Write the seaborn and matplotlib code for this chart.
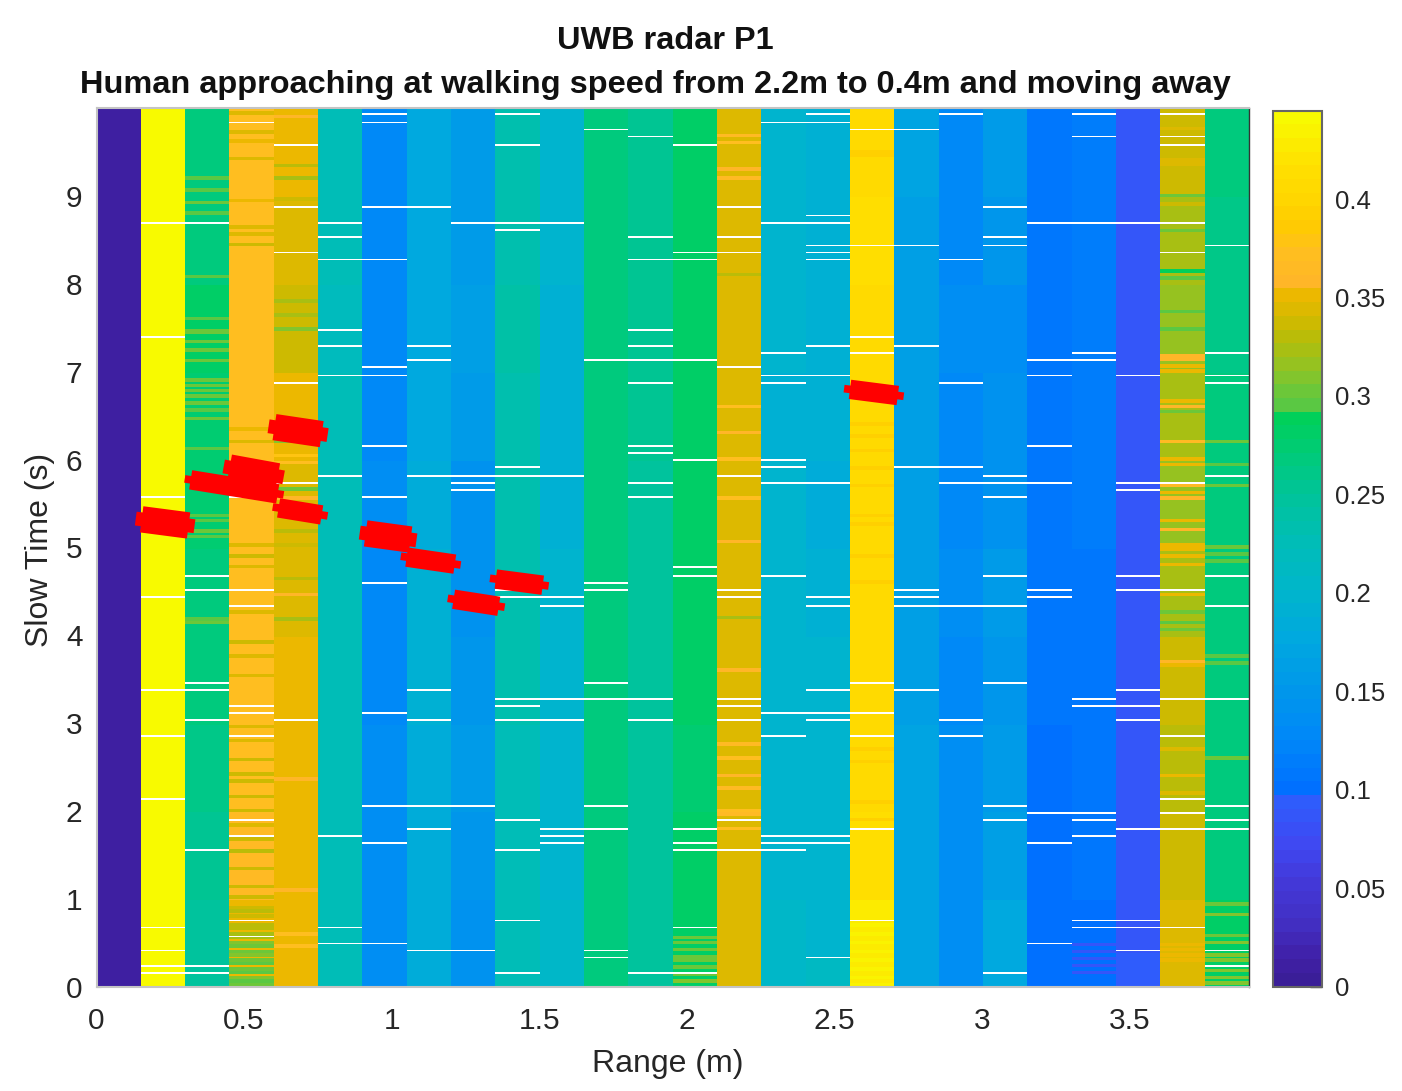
import numpy as np
import seaborn as sns
from matplotlib import pyplot as plt
from matplotlib.colors import LinearSegmentedColormap

sns.set_style('white')
plt.rcParams['font.family'] = ['Liberation Sans', 'DejaVu Sans']

title_top = 'UWB radar P1'
title_bottom = 'Human approaching at walking speed from 2.2m to 0.4m and moving away'
x_ticks = [0, 0.5, 1, 1.5, 2, 2.5, 3, 3.5]
x_tick_labels = ['0', '0.5', '1', '1.5', '2', '2.5', '3', '3.5']
y_ticks = [0, 1, 2, 3, 4, 5, 6, 7, 8, 9]
cbar_ticks = [0, 0.05, 0.1, 0.15, 0.2, 0.25, 0.3, 0.35, 0.4]
cbar_labels = ['0', '0.05', '0.1', '0.15', '0.2', '0.25', '0.3', '0.35', '0.4']
range_max = 3.905
time_max = 10.01
value_max = 0.445

# mean level of every range bin, one value per second of slow time (0-1 s first)
bin_levels = [
    [.012, .012, .012, .012, .012, .012, .012, .012, .012, .012],
    [.440, .440, .440, .440, .440, .440, .440, .440, .440, .440],
    [.245, .255, .260, .265, .270, .275, .275, .280, .270, .265],
    [.350, .365, .370, .370, .370, .375, .375, .375, .375, .370],
    [.352, .352, .348, .350, .345, .345, .348, .340, .345, .350],
    [.225, .225, .225, .225, .225, .225, .225, .220, .225, .225],
    [.135, .135, .135, .130, .130, .135, .130, .130, .130, .130],
    [.185, .185, .185, .190, .190, .185, .180, .180, .180, .180],
    [.140, .150, .155, .150, .145, .140, .155, .160, .155, .155],
    [.225, .225, .225, .235, .235, .235, .235, .240, .235, .235],
    [.205, .200, .200, .195, .195, .190, .190, .190, .195, .200],
    [.265, .265, .265, .265, .265, .270, .265, .270, .270, .270],
    [.245, .250, .245, .250, .250, .250, .255, .255, .255, .255],
    [.280, .280, .275, .280, .285, .285, .285, .285, .285, .285],
    [.345, .345, .345, .345, .345, .345, .345, .345, .345, .345],
    [.205, .200, .200, .200, .195, .195, .190, .200, .200, .200],
    [.195, .195, .195, .195, .190, .185, .190, .190, .190, .190],
    [.425, .415, .410, .410, .410, .410, .410, .410, .415, .410],
    [.170, .170, .170, .165, .165, .165, .165, .165, .165, .170],
    [.135, .135, .135, .130, .135, .130, .130, .135, .130, .130],
    [.175, .165, .155, .150, .155, .145, .140, .135, .150, .155],
    [.101, .102, .102, .105, .105, .105, .105, .105, .110, .105],
    [.101, .108, .105, .110, .110, .115, .115, .115, .115, .115],
    [.085, .085, .085, .085, .085, .085, .085, .085, .085, .085],
    [.345, .335, .330, .335, .325, .315, .325, .315, .320, .335],
    [.285, .270, .265, .270, .265, .270, .265, .262, .262, .270],
]

# thin rows that stand out from the level of a bin: bin -> (times, values)
stripe_times = {
    2: [9.19, 9.05, 8.92, 8.80, 8.07, 7.59, 7.46, 7.43, 7.34, 7.24, 7.11, 6.89, 6.84,
        6.77, 6.72, 6.64, 6.55, 6.45, 6.12, 5.36, 5.29, 5.17, 5.11, 4.18, 4.14],
    3: [9.93, 9.72, 9.61, 9.42, 8.93, 8.64, 8.55, 8.43, 6.34, 6.19, 5.02, 4.90, 4.77, 4.26,
        3.91, 3.76, 3.53, 2.95, 2.79, 2.57, 2.41, 2.34, 2.15, 2.00, 1.83, 1.67, 1.54, 1.33,
        1.14, 1.01, .90, .85, .80, .70, .65, .60, .55, .50, .45, .40, .35, .30, .25, .20,
        .15, .10, .05, .02],
    4: [9.90, 9.34, 9.19, 8.96, 7.79, 7.63, 7.48, 6.38, 6.19, 6.04, 5.96, 5.66, 5.55, 5.17,
        5.02, 4.64, 4.45, 4.18, 2.35, 1.10, .60, .45],
    13: [.55, .50, .42, .33, .29, .21, .14, .06],
    14: [9.67, 9.59, 9.29, 9.19, 8.09, 6.60, 6.30, 6.00, 5.55, 5.05, 4.20, 3.60, 2.75, 2.60,
         2.40, 2.25, 2.00, 1.95, 1.80],
    16: [.30, .26, .22, .18, .14, .10, .06, .02],
    17: [9.50, 9.45, 6.40, 6.25, 6.10, 5.90, 5.70, 5.35, 5.25, 4.90, 4.60, 2.70, 2.55, 2.10,
         1.90, .70, .60, .50, .40, .30, .20, .10, .02],
    22: [.48, .40, .32, .24, .16],
    23: [.36, .32, .28, .24, .20, .16, .12, .08, .04, .02],
    24: [9.75, 9.40, 9.35, 9.00, 8.90, 8.60, 8.13, 8.05, 7.67, 7.48, 7.18, 7.14, 7.05, 7.00,
         6.65, 6.60, 6.53, 6.19, 6.00, 5.94, 5.70, 5.62, 5.55, 5.30, 5.19, 5.02, 4.98, 4.90,
         4.79, 4.45, 4.26, 4.14, 4.06, 3.69, 3.65, 2.70, 2.40, 2.20, .48, .42, .36, .30],
    25: [6.19, 5.94, 5.70, 5.00, 4.92, 4.83, 3.76, 3.67, 2.60, .93, .82, .57, .50, .36, .29,
         .18, .10, .04],
}
stripe_values = {
    2: [.295, .295, .300, .295, .295, .295, .300, .300, .300, .300, .300, .300, .305,
        .300, .305, .300, .295, .300, .295, .295, .295, .300, .295, .295, .300],
    3: [.345, .345, .350, .345, .350, .345, .345, .340, .350, .345, .345, .340, .345, .345,
        .335, .345, .345, .345, .345, .340, .340, .340, .340, .340, .345, .340, .330, .340,
        .340, .335, .335, .330, .335, .330, .330, .320, .325, .310, .305, .300, .310, .305,
        .295, .300, .295, .310, .295, .300],
    4: [.360, .330, .320, .340, .320, .320, .310, .370, .310, .380, .370, .300, .360, .330,
        .340, .330, .360, .325, .360, .360, .370, .370],
    13: [.300, .300, .300, .305, .305, .300, .305, .310],
    14: [.365, .370, .360, .365, .330, .370, .360, .370, .370, .360, .325, .360, .365, .370,
         .360, .365, .370, .365, .370],
    16: [.215, .215, .215, .215, .215, .215, .215, .215],
    17: [.390, .395, .395, .390, .390, .395, .395, .390, .395, .395, .395, .395, .390, .395,
         .395, .435, .435, .435, .435, .435, .435, .435, .435],
    22: [.085, .085, .090, .085, .085],
    23: [.095, .095, .095, .095, .095, .095, .095, .095, .095, .095],
    24: [.345, .345, .345, .300, .335, .300, .290, .295, .295, .295, .358, .358, .350, .350,
         .350, .358, .300, .362, .350, .350, .362, .350, .358, .350, .358, .352, .352, .350,
         .350, .350, .300, .295, .300, .358, .350, .345, .350, .345, .354, .354, .354, .354],
    25: [.300, .295, .300, .300, .295, .295, .295, .295, .300, .300, .310, .300, .310, .310,
         .310, .310, .310, .310],
}

# rows with no return, one list per range bin
gap_times = [
    [],
    [8.70, 7.39, 5.57, 4.43, 3.37, 2.86, 2.14, .67, .41, .24, .16],
    [8.70, 4.68, 4.51, 3.46, 3.37, 3.03, 1.55, .24, .16],
    [9.84, 5.57, 4.51, 4.34, 3.20, 3.11, 2.86, 1.89, 1.72, .75, .58],
    [9.58, 8.87, 8.36, 6.88, 5.74, 3.03],
    [8.70, 8.53, 8.27, 7.48, 7.30, 6.96, 5.82, 1.72, .67, .49],
    [9.93, 9.84, 8.87, 8.27, 7.05, 6.96, 6.16, 5.57, 4.60, 3.11, 2.06, 1.64, .49],
    [8.87, 7.30, 7.13, 5.82, 3.37, 3.03, 2.06, 1.80, .41],
    [8.70, 5.82, 5.74, 5.65, 2.06, .41],
    [9.93, 9.58, 8.70, 8.61, 5.91, 5.82, 4.51, 4.43, 3.28, 3.20, 3.03, 1.89, 1.55, .75, .16],
    [8.70, 5.82, 4.43, 4.34, 3.28, 3.03, 1.80, 1.72, 1.64],
    [9.75, 7.13, 4.60, 4.51, 3.46, 3.28, 2.06, 1.80, .41, .33],
    [9.67, 8.53, 8.27, 7.48, 7.30, 7.13, 6.88, 6.16, 6.08, 5.74, 5.57, 3.28, 3.03, .16],
    [9.58, 8.36, 8.27, 7.13, 5.99, 4.77, 4.68, 1.80, 1.64, 1.55, .67, .16],
    [8.87, 8.53, 8.36, 7.05, 5.82, 4.51, 4.43, 3.28, 3.20, 3.03, 1.89, 1.55],
    [9.84, 8.70, 7.22, 6.96, 6.88, 5.99, 5.91, 5.74, 4.68, 3.11, 2.86, 1.72, 1.64, 1.55],
    [9.93, 9.84, 8.78, 8.70, 8.44, 8.36, 8.27, 7.30, 6.96, 5.74, 4.43, 4.34, 3.37, 3.11, 3.03,
     1.72, 1.64, .33],
    [9.75, 8.44, 7.39, 7.22, 3.46, 3.11, 2.86, 1.80, .75],
    [9.75, 8.44, 7.30, 5.91, 4.51, 4.43, 4.34, 3.37],
    [9.93, 8.27, 6.88, 5.91, 5.74, 4.34, 3.03, 2.86],
    [8.87, 8.53, 8.44, 5.82, 5.74, 5.57, 4.68, 4.34, 3.46, 2.06, 1.89, .16],
    [8.70, 7.13, 6.96, 6.16, 5.74, 4.51, 4.43, 1.97, 1.64, .49],
    [9.93, 9.67, 8.70, 7.22, 7.13, 3.28, 3.20, 1.97, 1.89, 1.72, .75, .67],
    [8.70, 6.96, 5.74, 5.65, 4.68, 4.51, 3.37, 3.20, 3.03, 1.80, .75, .67, .41],
    [9.93, 9.67, 9.58, 8.70, 8.36, 5.74, 4.51, 3.28, 2.86, 2.14, 1.97, 1.80, .67],
    [8.44, 7.22, 6.96, 6.88, 5.82, 4.68, 4.34, 3.28, 2.06, 1.89, 1.80, .41, .24],
]

# red detections
det_range_start = [.153, .319, .451, .603, .617, .912, 1.051, 1.210, 1.353, 2.553]
det_range_end = [.312, .614, .614, .763, .763, 1.064, 1.214, 1.363, 1.512, 2.715]
det_time_start = [5.32, 5.77, 5.91, 6.37, 5.45, 5.16, 4.89, 4.41, 4.64, 6.80]
det_time_end = [5.25, 5.61, 5.81, 6.29, 5.37, 5.09, 4.81, 4.33, 4.57, 6.73]
det_heavy = [True, False, True, True, False, True, False, False, False, False]

cmap_values = [0, .012, .03, .05, .07, .0984, .0985, .125, .15, .175, .2, .225, .25, .275,
               .2899, .29, .3, .315, .33, .34, .3559, .356, .375, .39, .4, .42, .445]
cmap_colors = ['#3a1e98', '#4020a8', '#4230c4', '#4338d8', '#3f48f2', '#2a62ff', '#0070ff',
               '#0088f8', '#0097ea', '#00a8e0', '#00b5cc', '#00bdb8', '#00c49a', '#00cc72',
               '#00d05a', '#4fc84a', '#60c840', '#8fc425', '#b5bc0a', '#d0ba00', '#f2b800',
               '#ffb42a', '#ffbe20', '#ffcb00', '#ffd400', '#ffe000', '#f8fa00']
parula = LinearSegmentedColormap.from_list(
    'radar', [(v / value_max, c) for v, c in zip(cmap_values, cmap_colors)], N=64)

n_rows = 500
n_bins = len(bin_levels)
dt = time_max / n_rows
dr = range_max / n_bins

power = np.zeros((n_rows, n_bins))
for b in range(n_bins):
    for sec in range(10):
        lo = int(sec / dt)
        power[lo:, b] = bin_levels[b][sec]
    for t, v in zip(stripe_times.get(b, []), stripe_values.get(b, [])):
        row = int(t / dt)
        power[row:row + 2, b] = v
    for t in gap_times[b]:
        power[int(t / dt), b] = np.nan

W, H = 1402, 1091
fig = plt.figure(figsize=(W / 100, H / 100), dpi=100)
ax = fig.add_axes([96.5 / W, 1 - 986.5 / H, (1249 - 96.5) / W, (986.5 - 107.5) / H])
cax = fig.add_axes([1273 / W, 1 - 986.5 / H, 49 / W, (986.5 - 110.5) / H])

sns.heatmap(power, ax=ax, cbar_ax=cax, cmap=parula, vmin=0, vmax=value_max,
            xticklabels=False, yticklabels=False)
ax.invert_yaxis()

for r0, r1, t0, t1, heavy in zip(det_range_start, det_range_end, det_time_start,
                                 det_time_end, det_heavy):
    slope = (t1 - t0) / (r1 - r0)
    xs = np.array([r0, r1]) / dr
    ys = np.array([t0, t1]) / dt
    ax.plot(xs, ys, color='#ff0000', lw=19 if heavy else 14, solid_capstyle='butt')
    xs = np.array([r0 - .02, r1 + .02]) / dr
    ys = np.array([t0 - .02 * slope, t1 + .02 * slope]) / dt
    ax.plot(xs, ys, color='#ff0000', lw=10 if heavy else 5.5, solid_capstyle='butt')

ax.set_xticks(np.array(x_ticks) / dr)
ax.set_xticklabels(x_tick_labels)
ax.set_yticks(np.array(y_ticks) / dt)
ax.set_yticklabels([str(t) for t in y_ticks], rotation=0)
ax.tick_params(axis='x', pad=15)
ax.tick_params(axis='y', pad=10)
ax.tick_params(axis='both', direction='in', length=3, width=.8, color='#999999',
               labelsize=21.5, labelcolor='#262626', bottom=True, left=True)
for side in ['left', 'top', 'bottom']:
    ax.spines[side].set_visible(True)
    ax.spines[side].set_color('#c4c4c4')
    ax.spines[side].set_linewidth(1.5)
ax.spines['right'].set_visible(True)
ax.spines['right'].set_color('#333333')
ax.spines['right'].set_linewidth(1.0)

cbar = ax.collections[0].colorbar
cbar.set_ticks(cbar_ticks)
cbar.set_ticklabels(cbar_labels)
cbar.ax.tick_params(direction='in', length=9, width=1, color='#444444', labelsize=18.5,
                    labelcolor='#262626', pad=9)
cbar.outline.set_visible(True)
cbar.outline.set_edgecolor('#666666')
cbar.outline.set_linewidth(1.5)

fig.text(665 / W, 1 - 41 / H, title_top, ha='center', va='center', fontsize=23.4, fontweight='bold',
         color='#111111')
fig.text(655.5 / W, 1 - 85 / H, title_bottom, ha='center', va='center', fontsize=23.4,
         fontweight='bold', color='#111111')
fig.text(668 / W, 1 - 1064 / H, 'Range (m)', ha='center', va='center', fontsize=23, color='#262626')
fig.text(40 / W, 1 - 550 / H, 'Slow Time (s)', ha='center', va='center', rotation=90, fontsize=23,
         color='#262626')

fig.savefig('out.png', dpi=100)
